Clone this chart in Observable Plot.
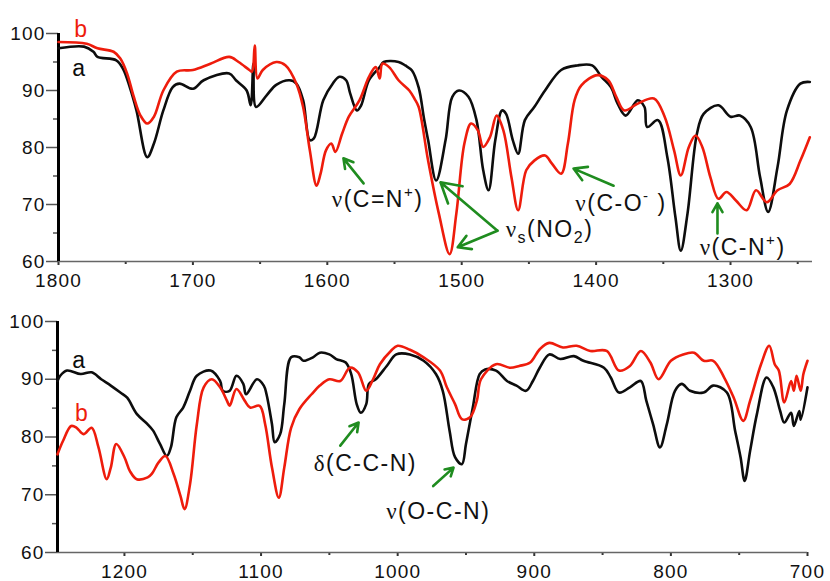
<!DOCTYPE html>
<html><head><meta charset="utf-8">
<script src="https://cdn.jsdelivr.net/npm/d3@7"></script>
<script src="https://cdn.jsdelivr.net/npm/@observablehq/plot@0.6"></script>
<style>
body{margin:0;background:#fff;}
#chart svg{display:block;}
</style></head><body><div id="chart"></div>
<script>
// ---------- data: top panel (1800–1240 cm-1) ----------
const topAx = [1800,1781,1774,1771,1757,1752,1747,1742,1734,1729,1722,1715,1710,1700,1692,1673,1668,1660,1657,1655,1653,1645,1638,1628,1623,1618,1613,1610,1603,1596,1591,1586,1583,1578,1575,1569,1561,1558,1547,1542,1537,1532,1528,1525,1519,1512,1507,1502,1495,1489,1484,1480,1475,1470,1467,1462,1458,1453,1446,1438,1426,1414,1403,1396,1389,1384,1378,1369,1364,1362,1354,1347,1341,1337,1332,1325,1320,1309,1300,1293,1285,1278,1272,1265,1258,1248,1241];
const topAy = [97.4,97.7,96.8,95.9,95.3,93.8,90.6,86.5,78.3,80.7,86.5,90.6,91.2,90.3,91.8,93,91.8,90,87.4,94.7,87.1,89.2,91,91.8,91.2,88.3,81.3,81.6,88.3,91.2,92.4,91.8,89.5,86.5,87.3,91.8,94.1,95,95,94.4,93.5,90.5,85,81.3,74.2,81.3,88.9,90,88.9,84.8,76,72.5,81.3,86.5,85.9,81.3,78.9,84.8,87.1,90,93.6,94.4,94.4,92.4,90.6,87.7,85.6,88.3,87.1,83.6,84.8,78.3,67.8,61.9,68.4,82.4,85.9,87.4,85.4,85.6,83.6,74.8,68.7,76.6,86.5,91.2,91.5];
const topBx = [1800,1779,1771,1759,1754,1749,1744,1739,1734,1729,1722,1712,1700,1687,1673,1666,1658,1656,1654,1652,1648,1638,1631,1623,1618,1613,1608,1605,1601,1597,1594,1589,1584,1576,1569,1564,1561,1559,1554,1547,1539,1535,1532,1525,1517,1509,1504,1498,1493,1488,1484,1479,1474,1469,1463,1458,1452,1446,1438,1433,1426,1421,1416,1411,1399,1391,1385,1379,1369,1357,1349,1342,1337,1331,1326,1321,1315,1309,1303,1296,1288,1281,1273,1265,1256,1248,1241];
const topBy = [98.5,98.2,97.4,96.8,95.6,93,88.9,85.6,84.2,85.4,90,93.3,93.6,94.7,95.9,95,93.6,93.3,97.9,92.1,93.6,95,94.4,91.2,87.1,79.5,73.3,75.4,79.5,80.7,79.2,82.4,85.4,88.3,92.4,94.1,92.1,94.7,94.1,91.8,90,88.5,87.1,77.7,68.4,61.3,68.4,80.7,84.2,83,80.1,81.8,85.6,83,74.8,69,76,77.7,78.6,77.2,75.4,80.7,88.3,90.9,92.7,91.8,88.9,86.5,87.7,88.6,85.4,79.5,75.1,80.1,82.1,80.1,74.8,71,72.2,70.7,69,72.5,70.4,72.5,73.6,77.7,81.8];

// ---------- data: bottom panel (1250–700 cm-1) ----------
const botAx = [1249,1247,1242,1232,1224,1217,1210,1203,1198,1191,1183,1179,1174,1169,1166,1162,1157,1152,1147,1137,1130,1128,1123,1118,1113,1111,1103,1098,1096,1092,1090,1086,1083,1078,1072,1069,1062,1057,1050,1045,1038,1034,1030,1027,1023,1021,1016,1008,1001,991,981,972,967,962,958,953,950,945,940,936,928,920,913,906,901,896,889,881,871,864,849,844,838,830,822,818,813,808,803,797,792,786,776,769,759,753,749,746,742,737,730,725,720,717,712,710,706,705,700];
const botAy = [89.7,90.6,91.5,90.9,91.2,90,88.9,87.7,86.8,84,82.2,81.1,78.8,76.7,78.2,83.4,85.1,88,90.6,91.5,89.7,88,88,90.6,89.2,87.4,90,88.9,87.4,82.2,79.1,80.5,85.7,93.8,93.8,93.2,93.8,94.6,94.3,93.5,92.9,90.9,85.7,84.2,85.7,89.2,90,92.3,94.3,94.3,93.2,90.9,88,81.1,76.5,75.3,78.8,85.1,90.9,91.7,91.5,89.7,88.9,88,89.7,92,94.3,93.5,94,93.2,92,90.3,87.7,88.6,89.7,86.3,82.2,78.2,82.2,88,89.2,88,87.7,88.9,87.7,81.1,76.5,72.4,77.6,84,90.3,88.6,84.5,82.5,84.2,81.9,84.5,83,88.6];
const botBx = [1249,1245,1239,1235,1230,1224,1219,1213,1210,1206,1200,1196,1191,1183,1180,1175,1170,1164,1159,1156,1152,1147,1142,1136,1130,1125,1123,1118,1112,1108,1101,1097,1092,1087,1083,1078,1072,1063,1057,1050,1042,1035,1029,1023,1018,1013,1005,1000,991,981,969,964,958,953,947,942,939,928,918,911,903,896,889,879,869,859,847,838,830,822,815,809,800,791,783,776,769,761,754,747,742,734,728,724,721,717,712,710,708,705,703,700];
const botBy = [77,79.3,81.9,81.6,80.5,81.6,78.2,72.7,74.7,78.8,76.5,74.1,72.7,73,73.6,75.6,76.7,73.6,69.8,67.5,71.8,82.2,88.6,90,88.6,86.3,85.4,88.3,86.3,85.1,85.4,82.2,74.7,69.5,74.7,81.6,84.8,87.4,88.9,90,89.7,92,91.2,88,90,92.6,94.9,95.8,95.1,93.8,91.5,88.6,85.7,83.1,83.4,86.3,90,92.6,92,92.3,92.9,95.2,96.3,95.5,95.8,94.9,94.9,91.5,92.3,94.9,92.9,90,93.2,94.3,94.6,93.2,93.2,90.3,86.8,82.8,86.3,92.6,95.8,92.6,91.5,86,89.7,88,90.6,88,90.9,93.2];

// ---------- ticks ----------
const yMajor = [60,70,80,90,100];
const yMinor = [65,75,85,95];
const topXMajor = [1800,1700,1600,1500,1400,1300];
const topXMinor = [1750,1650,1550,1450,1350,1250];
const botXMajor = [1200,1100,1000,900,800,700];
const botXMinor = [1150,1050,950,850,750];

// ---------- annotations ----------
const topLabels = ["ν(C=N^{+})","ν_{s}(NO_{2})","ν(C-O^{-} )","ν(C-N^{+})"];
const topLabelX = [1562.6,1434.7,1381.5,1291];
const topLabelY = [70.8,65.6,70.2,62.35];
const topArrowX1 = [1573,1473.4,1473.4,1387,1309.7];
const topArrowY1 = [73.7,65.4,65.4,73.3,64.9];
const topArrowX2 = [1588,1515.8,1503,1416.8,1309.7];
const topArrowY2 = [78.1,73.9,62.5,76.3,70.2];
const botLabels = ["δ(C-C-N)","ν(O-C-N)"];
const botLabelX = [1023.7,970.3];
const botLabelY = [75.4,67.0];
const botArrowX1 = [1042,974];
const botArrowY1 = [78.5,71.5];
const botArrowX2 = [1028.6,959.1];
const botArrowY2 = [82.5,74.7];
const seriesNames = ["a","b"];
const topNameX = [1785,1783.6], topNameY = [93.9,100.7];
const botNameX = [1233.6,1231.5], botNameY = [93.2,84.1];

const BLACK = "#0d0d0d", RED = "#ee1c0c", GREEN = "#1f8c1f";

function zip(xs, ys){ return xs.map((x,i)=>({x, y: ys[i]})); }

function panel(o){
  const A = zip(o.ax, o.ay), B = zip(o.bx, o.by);
  const labels = o.labels.map((t,i)=>({t, x:o.lx[i], y:o.ly[i]}));
  const arrows = o.x1.map((v,i)=>({x1:v, y1:o.y1[i], x2:o.x2[i], y2:o.y2[i]}));
  const names = seriesNames.map((t,i)=>({t, x:o.nx[i], y:o.ny[i]}));
  return Plot.plot({
    width: 830, height: o.height,
    marginTop: o.mt, marginBottom: o.mb, marginLeft: o.ml, marginRight: o.mr,
    x: {domain: o.domain},
    y: {domain: [60, 100]},
    style: {fontFamily: "'Liberation Sans', Arial, sans-serif", fontSize: "19px", color: "#111", background: "white", overflow: "visible"},
    marks: [
      Plot.axisY({ticks: yMajor, tickSize: 12, tickPadding: 1, stroke: "#555", strokeWidth: 1.5, fontSize: 19, fill: "#111", tickFormat: d => String(d)}),
      Plot.axisY({ticks: yMinor, tickSize: 5, text: null, stroke: "#555", strokeWidth: 1.5}),
      Plot.axisX({ticks: o.xMajor, tickSize: 4, tickPadding: 8, stroke: "#333", strokeWidth: 2, fontSize: 19, fill: "#111", tickFormat: d => String(d)}),
      Plot.axisX({ticks: o.xMinor, tickSize: 3, text: null, stroke: "#333", strokeWidth: 2}),
      Plot.ruleY([60], {stroke: "#666", strokeWidth: 1.5}),
      Plot.ruleX([o.domain[0]], {y1: 60, y2: 100, stroke: "#000", strokeWidth: 3}),
      Plot.line(A, {x: "x", y: "y", stroke: BLACK, strokeWidth: 2.6, curve: "catmull-rom"}),
      Plot.line(B, {x: "x", y: "y", stroke: RED, strokeWidth: 2.6, curve: "catmull-rom"}),
      Plot.arrow(arrows, {x1: "x1", y1: "y1", x2: "x2", y2: "y2", stroke: GREEN, strokeWidth: 2.6, headLength: 13}),
      Plot.text(labels, {x: "x", y: "y", text: "t", fill: "#111", fontSize: 23, className: "anno"}),
      Plot.text(names.slice(0,1), {x: "x", y: "y", text: "t", fill: BLACK, fontSize: 23}),
      Plot.text(names.slice(1,2), {x: "x", y: "y", text: "t", fill: RED, fontSize: 23})
    ]
  });
}

// turn ^{..} / _{..} markup into raised / lowered tspans, Greek letters in a serif face
function markup(s){
  const parts = s.split(/(\^\{.*?\}|_\{.*?\}|[νδ])/).filter(p => p);
  let pending = 0, html = "";
  for (const p of parts){
    let attrs = "", txt = p, shift = 0;
    if (p.startsWith("^{")) { txt = p.slice(2, -1); attrs = ' font-size="15"'; shift = -10; }
    else if (p.startsWith("_{")) { txt = p.slice(2, -1); attrs = ' font-size="16"'; shift = 6; }
    else if (p === "ν" || p === "δ") attrs = ' font-family="Liberation Serif, serif"';
    const dy = pending + shift;
    html += `<tspan${attrs}${dy ? ` dy="${dy}"` : ""}>${txt}</tspan>`;
    pending = -shift;
  }
  return html;
}
function fixText(svg){
  svg.querySelectorAll(".anno text").forEach(t => {
    t.setAttribute("letter-spacing", "1.5");
    t.innerHTML = markup(t.textContent);
  });
  svg.querySelectorAll('g[aria-label="y-axis tick label"] text, g[aria-label="x-axis tick label"] text').forEach(t => t.setAttribute("letter-spacing", "1.2"));
}

const topPanel = panel({ax: topAx, ay: topAy, bx: topBx, by: topBy, domain: [1800, 1239], height: 290,
  mt: 33, mb: 29, ml: 58, mr: 18, xMajor: topXMajor, xMinor: topXMinor,
  labels: topLabels, lx: topLabelX, ly: topLabelY,
  x1: topArrowX1, y1: topArrowY1, x2: topArrowX2, y2: topArrowY2, nx: topNameX, ny: topNameY});
const botPanel = panel({ax: botAx, ay: botAy, bx: botBx, by: botBy, domain: [1249, 700], height: 291,
  mt: 31, mb: 29, ml: 57, mr: 23, xMajor: botXMajor, xMinor: botXMinor,
  labels: botLabels, lx: botLabelX, ly: botLabelY,
  x1: botArrowX1, y1: botArrowY1, x2: botArrowX2, y2: botArrowY2, nx: botNameX, ny: botNameY});
const root = document.getElementById("chart");
root.append(topPanel, botPanel);
fixText(topPanel); fixText(botPanel);
</script></body></html>
